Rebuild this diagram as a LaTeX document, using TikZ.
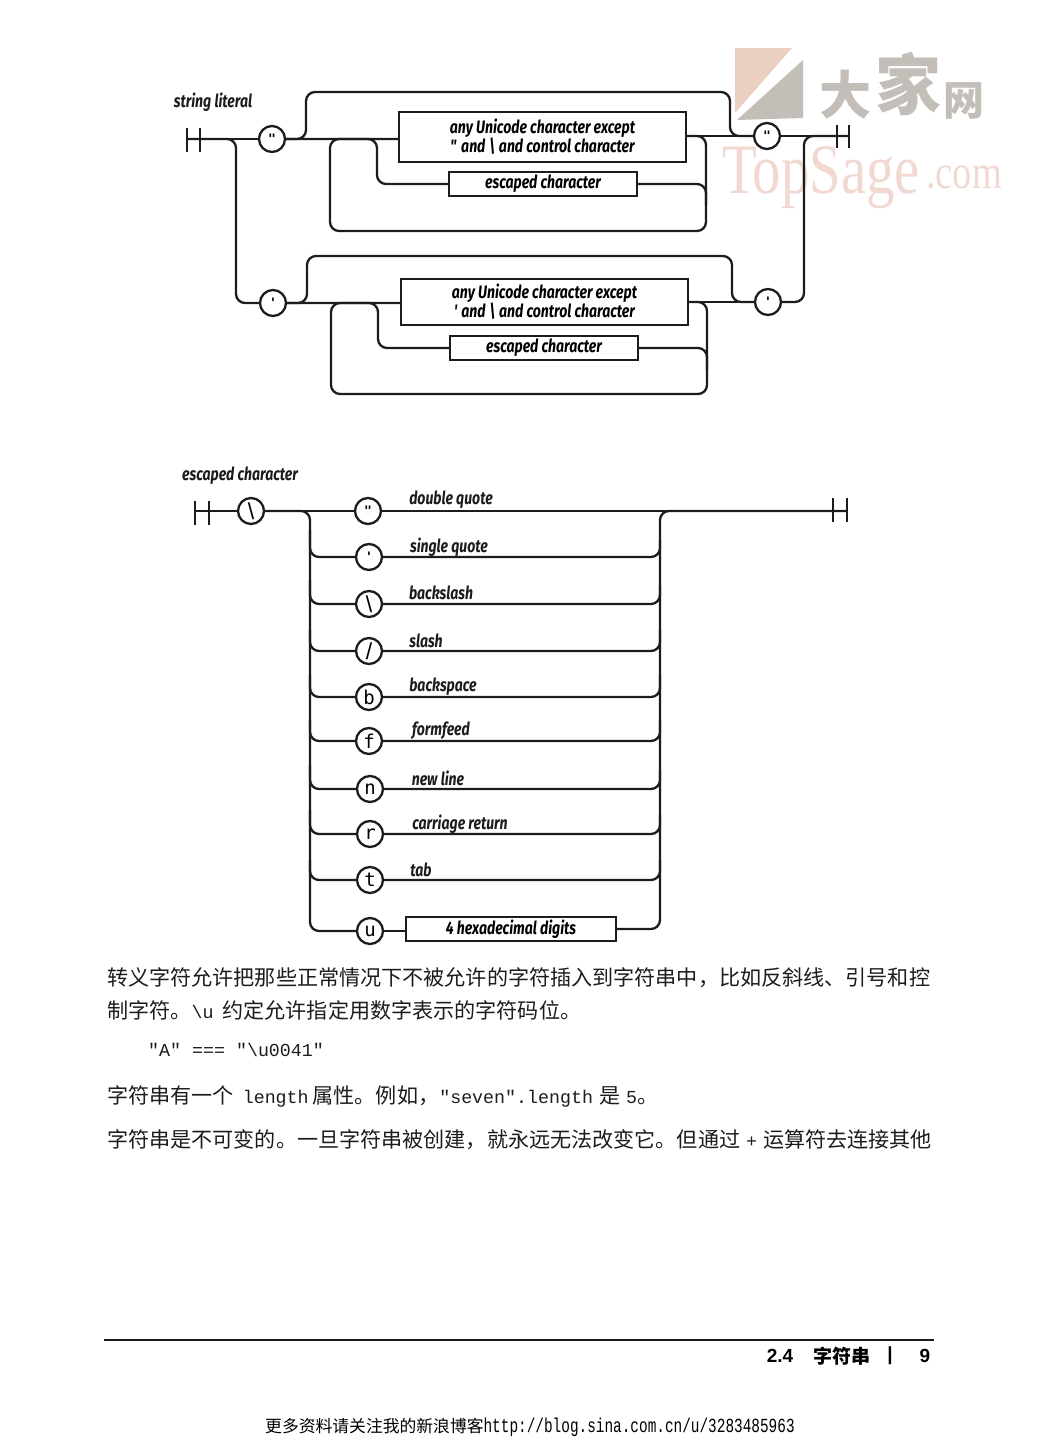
\documentclass[tikz,border=0pt]{standalone}
\usepackage{fontspec}
\setmainfont{Liberation Sans}
\setmonofont{Liberation Mono}
\newfontfamily\cjkfont{Noto Sans CJK SC}
\newfontfamily\labelfont[FakeStretch=0.78]{Fira Sans}
\newfontfamily\wmfont[FakeStretch=0.8]{Liberation Serif}
\newfontfamily\urlfont[FakeStretch=0.72]{Liberation Mono}
\newfontfamily\termfont{DejaVu Sans Mono}
\usetikzlibrary{positioning}

\definecolor{inkline}{HTML}{1C1C1C}
\definecolor{wmgray}{HTML}{C4BEB9}
\definecolor{wmpink}{HTML}{F1D9D2}
\definecolor{wmtan}{HTML}{EBCFC0}

\newcommand{\dq}{\textquotedbl}
\newcommand{\sq}{\textquotesingle}
\newcommand{\codesize}{\ttfamily\fontsize{18.3}{18.3}\selectfont}

\begin{document}
\begin{tikzpicture}[
    x=1pt, y=-1pt,
    railway/.style={draw=inkline, line width=2.3pt, rounded corners=9pt},
    bar/.style={draw=inkline, line width=2.3pt},
    term/.style={
        circle,
        draw=inkline,
        line width=2.3pt,
        fill=white,
        minimum size=26pt,
        inner sep=0pt,
        font=\termfont\bfseries\fontsize{13}{13}\selectfont
    },
    letterterm/.style={
        term,
        font=\termfont\fontsize{19}{19}\selectfont
    },
    slashterm/.style={
        term,
        font=\fontsize{23}{23}\selectfont
    },
    pbox/.style={
        rectangle,
        draw=inkline,
        line width=2.3pt,
        fill=white,
        inner sep=0pt,
        align=center,
        font=\labelfont\bfseries\itshape\fontsize{18}{19}\selectfont
    },
    gloss/.style={
        font=\labelfont\bfseries\itshape\fontsize{18}{18}\selectfont,
        text=inkline,
        inner sep=0pt
    },
    bodytext/.style={
        anchor=west,
        inner sep=0pt,
        text=inkline,
        font=\cjkfont\fontsize{21.1}{21.1}\selectfont
    }
]
\useasboundingbox (0,0) rectangle (1057,1441);

% Watermark
\fill[wmtan] (735,48) -- (792,48) -- (735,113) -- cycle;
\fill[wmgray] (803,60) -- (803,118) -- (737,120) -- cycle;
\node[font=\cjkfont\bfseries\fontsize{52}{52}\selectfont, text=wmgray, inner sep=0pt] (wmda) at (845,95) {大};
\node[font=\cjkfont\bfseries\fontsize{66}{66}\selectfont, text=wmgray, inner sep=0pt] (wmjia) at (908,84) {家};
\node[font=\cjkfont\bfseries\fontsize{41}{41}\selectfont, text=wmgray, inner sep=0pt] (wmwang) at (964,101) {网};
\node[font=\wmfont\fontsize{71}{71}\selectfont, text=wmpink, inner sep=0pt, anchor=base west] (wmtop) at (722,193) {TopSage};
\node[font=\wmfont\fontsize{48}{48}\selectfont, text=wmpink, inner sep=0pt, anchor=base west] (wmcom) at (926,188) {.com};

% String literal
\node[gloss] (title1) at (213,102) {string literal};
\coordinate (s1) at (187,139);
\coordinate (e2) at (849,136);
\draw[bar] (187,128) -- (187,152);
\draw[bar] (200,128) -- (200,152);
\draw[bar] (837,125) -- (837,148);
\draw[bar] (849,125) -- (849,148);
\node[term] (dq1) at (272,139) {\dq};
\node[term] (dq2) at (767,136) {\dq};
\node[term] (sq1) at (273,303) {\sq};
\node[term] (sq2) at (768,302) {\sq};
\node[pbox, minimum width=287pt, minimum height=50pt] (any1) at (542.5,137) {any Unicode character except\\\dq{} and \textbackslash{} and control character};
\node[pbox, minimum width=188pt, minimum height=24pt] (esc1) at (543,184) {escaped character};
\node[pbox, minimum width=287pt, minimum height=46pt] (any2) at (544.5,302) {any Unicode character except\\\sq{} and \textbackslash{} and control character};
\node[pbox, minimum width=188pt, minimum height=24pt] (esc2) at (544,348) {escaped character};

% Main lines
\draw[bar] (s1) -- (dq1);
\draw[bar] (dq1) -- (dq1 -| any1.west);
\draw[bar] (any1.east |- dq2) -- (dq2);
\draw[bar] (dq2) -- (e2);
\draw[bar] (sq1) -- (sq1 -| any2.west);
\draw[bar] (any2.east |- sq2) -- (sq2);
\draw[railway] (s1) -- (236,139) -- (236,303) -- (sq1);
\draw[railway] (sq2) -- (804,302) -- (804,136) -- (e2);

% Bypass and loops, double quote
\draw[railway] (dq1) -- (306,139) -- (306,92) -- (730,92) -- (730,136) -- (dq2);
\draw[railway] (dq1) -- (377,139) -- (377,184) -- (esc1);
\draw[railway] (esc1) -- (706,184) -- (706,205);
\draw[railway] (any1.east |- dq2) -- (706,136) -- (706,231) -- (330,231) -- (330,139) -- (any1.west |- dq1);

% Bypass and loops, single quote
\draw[railway] (sq1) -- (307,303) -- (307,256) -- (732,256) -- (732,302) -- (sq2);
\draw[railway] (sq1) -- (378,303) -- (378,348) -- (esc2);
\draw[railway] (esc2) -- (707,348) -- (707,370);
\draw[railway] (any2.east |- sq2) -- (707,302) -- (707,394) -- (331,394) -- (331,303) -- (any2.west |- sq1);

% Escaped character
\node[gloss] (title2) at (240,476) {escaped character};
\coordinate (t1) at (195,511);
\coordinate (t2) at (847,511);
\draw[bar] (195,501) -- (195,525);
\draw[bar] (209,501) -- (209,525);
\draw[bar] (833,498) -- (833,522);
\draw[bar] (847,498) -- (847,522);
\node[slashterm] (bs0) at (251,511) {\textbackslash};
\node[term] (c1) at (368,511) {\dq};
\node[term] (c2) at (369,557) {\sq};
\node[slashterm] (c3) at (369,604) {\textbackslash};
\node[slashterm] (c4) at (369,651) {/};
\node[letterterm] (c5) at (369,697) {b};
\node[letterterm] (c6) at (369,741) {f};
\node[letterterm] (c7) at (370,789) {n};
\node[letterterm] (c8) at (370,834) {r};
\node[letterterm] (c9) at (370,880) {t};
\node[letterterm] (c10) at (370,931) {u};
\node[pbox, minimum width=210pt, minimum height=24pt] (hex) at (511,929) {4 hexadecimal digits};

\draw[bar] (t1) -- (bs0);
\draw[bar] (bs0) -- (c1);
\draw[bar] (c1) -- (t2);
\draw[railway] (bs0) -- (310,511) -- (310,931) -- (c10);
\draw[railway] (hex) -- (660,929) -- (660,511) -- (t2);
\draw[bar] (c10) -- (c10 -| hex.west);

% Rows
\draw[railway] (310,530) -- (310,557) -- (c2);
\draw[railway] (310,580) -- (310,604) -- (c3);
\draw[railway] (310,630) -- (310,651) -- (c4);
\draw[railway] (310,675) -- (310,697) -- (c5);
\draw[railway] (310,720) -- (310,741) -- (c6);
\draw[railway] (310,765) -- (310,789) -- (c7);
\draw[railway] (310,810) -- (310,834) -- (c8);
\draw[railway] (310,860) -- (310,880) -- (c9);
\draw[railway] (c2) -- (660,557) -- (660,540);
\draw[railway] (c3) -- (660,604) -- (660,585);
\draw[railway] (c4) -- (660,651) -- (660,630);
\draw[railway] (c5) -- (660,697) -- (660,675);
\draw[railway] (c6) -- (660,741) -- (660,720);
\draw[railway] (c7) -- (660,789) -- (660,770);
\draw[railway] (c8) -- (660,834) -- (660,815);
\draw[railway] (c9) -- (660,880) -- (660,860);

\node[gloss] (l1) at (451,500) {double quote};
\node[gloss] (l2) at (449,547) {single quote};
\node[gloss] (l3) at (441,593) {backslash};
\node[gloss] (l4) at (426,641) {slash};
\node[gloss] (l5) at (443,687) {backspace};
\node[gloss] (l6) at (441,731) {formfeed};
\node[gloss] (l7) at (438,778) {new line};
\node[gloss] (l8) at (460,824) {carriage return};
\node[gloss] (l9) at (421,870) {tab};

% Body text
\node[bodytext] (p1) at (107,978) {转义字符允许把那些正常情况下不被允许的字符插入到字符串中，比如反斜线、引号和控};
\node[bodytext] (p2) at (107,1010) {制字符。{\codesize\textbackslash u}\hspace{9pt}约定允许指定用数字表示的字符码位。};
\node[bodytext, font=\codesize] (code) at (148,1050) {"A" === "\textbackslash u0041"};
\node[bodytext] (p3) at (107,1096) {字符串有一个\hspace{9pt}{\codesize length}\hspace{4pt}属性。例如，{\codesize "seven".length}\hspace{6pt}是\hspace{6pt}{\codesize 5}。};
\node[bodytext] (p4) at (107,1140) {字符串是不可变的。一旦字符串被创建，就永远无法改变它。但通过\makebox[23pt]{\codesize +}运算符去连接其他};

% Footer
\coordinate (r1) at (104,1340);
\coordinate (r2) at (934,1340);
\draw[bar] (r1) -- (r2);
\node[font=\bfseries\fontsize{19}{19}\selectfont, inner sep=0pt] (secnum) at (780,1356) {2.4};
\node[font=\cjkfont\bfseries\fontsize{19}{19}\selectfont, inner sep=0pt] (sectitle) at (842,1356) {字符串};
\node[font=\bfseries\fontsize{19}{19}\selectfont, inner sep=0pt] (secbar) at (890,1356) {|};
\node[font=\bfseries\fontsize{19}{19}\selectfont, inner sep=0pt] (pageno) at (925,1356) {9};
\node[font=\cjkfont\fontsize{16.8}{16.8}\selectfont, inner sep=0pt, text=black, anchor=west] (source) at (265,1427) {更多资料请关注我的新浪博客{\urlfont\fontsize{20}{20}\selectfont http://blog.sina.com.cn/u/3283485963}};

\end{tikzpicture}
\end{document}
